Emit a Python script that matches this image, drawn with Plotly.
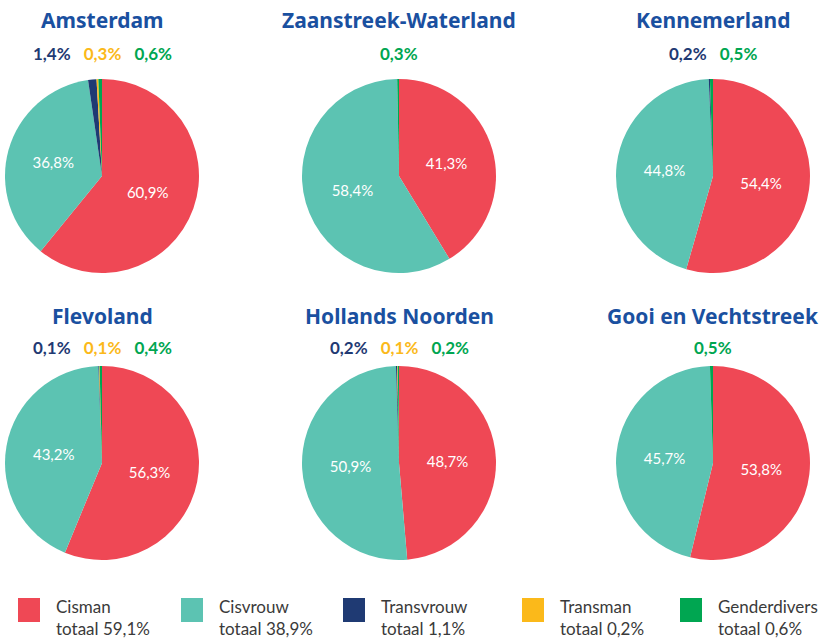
import plotly.graph_objects as go

W, H = 820, 638

categories = ["Cisman", "Cisvrouw", "Transvrouw", "Transman", "Genderdivers"]
totals = ["59,1%", "38,9%", "1,1%", "0,2%", "0,6%"]
colors = ["#EF4855", "#5CC3B2", "#1F3A73", "#FBB91A", "#00A651"]

regions = ["Amsterdam", "Zaanstreek-Waterland", "Kennemerland",
           "Flevoland", "Hollands Noorden", "Gooi en Vechtstreek"]
amsterdam = [60.9, 36.8, 1.4, 0.3, 0.6]
zaanstreek = [41.3, 58.4, 0.0, 0.0, 0.3]
kennemerland = [54.4, 44.8, 0.2, 0.0, 0.5]
flevoland = [56.3, 43.2, 0.1, 0.1, 0.4]
hollands_noorden = [48.7, 50.9, 0.2, 0.1, 0.2]
gooi = [53.8, 45.7, 0.0, 0.0, 0.5]
values = [amsterdam, zaanstreek, kennemerland, flevoland, hollands_noorden, gooi]

# layout positions (page pixels)
centers_x = [102, 399, 713]
centers_y = [176, 463]
R = 97
title_y = [20, 316]
small_y = [53, 347]


def px(x):
    return x / W


def py(y):
    return 1 - y / H


def fmt(v):
    return f"{v:.1f}".replace(".", ",") + "%"


fig = go.Figure()
annotations = []
shapes = []
for i, (name, vals) in enumerate(zip(regions, values)):
    cx = centers_x[i % 3]
    cy = centers_y[i // 3]
    texts = [fmt(v) if v >= 5 else "" for v in vals]
    fig.add_trace(go.Pie(
        labels=categories, values=vals, text=texts, textinfo="text",
        textposition="inside", insidetextorientation="horizontal",
        textfont=dict(color="white", size=15, family="Lato"),
        marker=dict(colors=colors, line=dict(width=0)),
        sort=False, direction="clockwise", rotation=0,
        hoverinfo="label+percent", showlegend=False,
        domain=dict(x=[px(cx - R), px(cx + R)],
                    y=[py(cy + R), py(cy - R)]),
    ))
    annotations.append(dict(
        text=f"<b>{name}</b>", x=px(cx), y=py(title_y[i // 3]),
        xref="paper", yref="paper", showarrow=False,
        xanchor="center", yanchor="middle",
        font=dict(size=21, color="#1A50A0", family="Noto Sans")))
    parts = []
    for v, c in zip(vals[2:], colors[2:]):
        if v > 0:
            parts.append(f"<span style='color:{c}'><b>{fmt(v)}</b></span>")
    annotations.append(dict(
        text="\u00a0\u00a0\u00a0".join(parts), x=px(cx), y=py(small_y[i // 3]),
        xref="paper", yref="paper", showarrow=False,
        xanchor="center", yanchor="middle",
        font=dict(size=17, family="Lato")))

# legend
leg_x = [18, 181, 343, 522, 680]
for lx, cat, tot, col in zip(leg_x, categories, totals, colors):
    shapes.append(dict(type="rect", xref="paper", yref="paper",
                       x0=px(lx), x1=px(lx + 22),
                       y0=py(622), y1=py(598),
                       fillcolor=col, line=dict(width=0)))
    annotations.append(dict(
        text=f"{cat}<br>totaal {tot}", x=px(lx + 36), y=py(594),
        xref="paper", yref="paper", showarrow=False,
        xanchor="left", yanchor="top", align="left",
        font=dict(size=17, color="#3A3A3A", family="Lato")))

fig.update_layout(
    width=W, height=H, margin=dict(l=0, r=0, t=0, b=0),
    paper_bgcolor="white", plot_bgcolor="white",
    annotations=annotations, shapes=shapes, showlegend=False,
)
fig.write_html("out.html",
               config={"displayModeBar": False},
               post_script="document.body.style.margin='0';"
                           "document.body.style.overflow='hidden';")
